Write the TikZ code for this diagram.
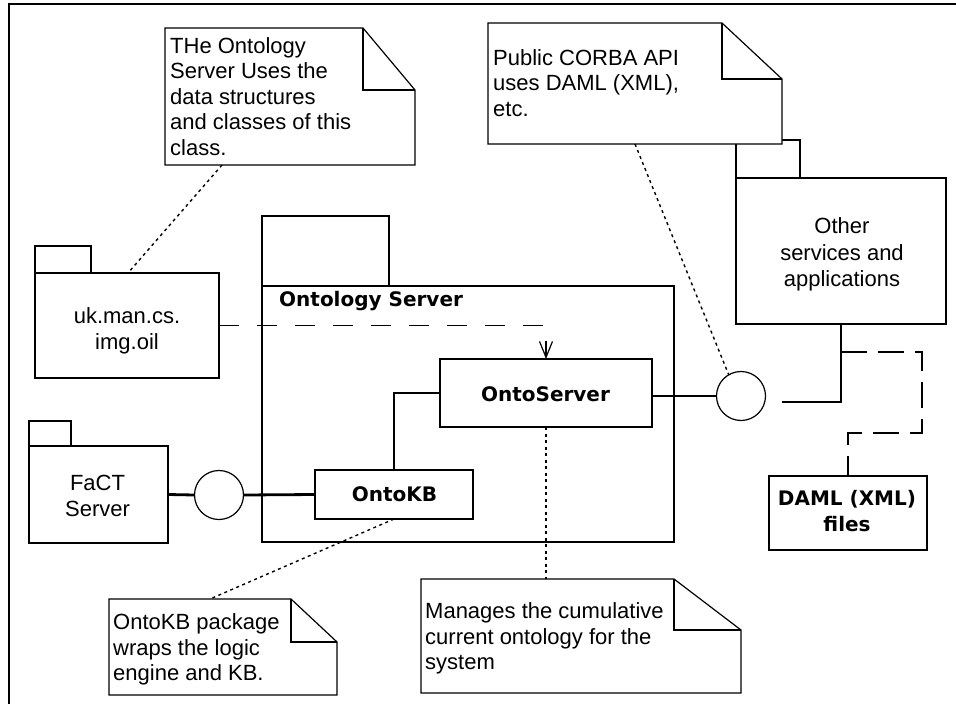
\documentclass[tikz,border=0pt]{standalone}
\usepackage{fontspec}
\setmainfont{Liberation Sans}
\newfontfamily\dvs{DejaVu Sans}
\usetikzlibrary{arrows.meta,calc}
\newcommand\drawnote[3]{%
  \draw[thinln,fill=white] (#1.north west) -- ($(#1.north east)+(-#2,0)$) -- ($(#1.north east)+(0,#3)$) -- (#1.south east) -- (#1.south west) -- cycle;
  \draw[thinln] ($(#1.north east)+(-#2,0)$) -- ++(0,#3) -- ($(#1.north east)+(0,#3)$);}
\begin{document}
\begin{tikzpicture}[x=1pt,y=-1pt,
  box/.style={draw,line width=1.2pt,inner sep=0pt,outer sep=0pt,anchor=north west},
  notearea/.style={inner sep=0pt,outer sep=0pt,anchor=north west},
  txt/.style={font=\fontsize{22}{25.5}\selectfont,inner sep=0pt},
  txtw/.style={font=\fontsize{22}{26.5}\selectfont,inner sep=0pt},
  btxt/.style={font=\dvs\bfseries\fontsize{20}{26.5}\selectfont,inner sep=0pt},
  thinln/.style={line width=1.2pt},
  thickln/.style={line width=2.8pt},
  tabln/.style={line width=2.4pt},
  dotline/.style={line width=1.4pt,dash pattern=on 3pt off 3.5pt},
  depline/.style={line width=1.2pt,dash pattern=on 20pt off 18pt},
  dashline/.style={line width=1.2pt,dash pattern=on 26pt off 11pt},
  iface/.style={draw,circle,line width=1.2pt,minimum size=49pt,inner sep=0pt,outer sep=0pt},
]
\useasboundingbox (0,0) rectangle (956,704);
\fill[white] (0,0) rectangle (956,704);
\draw[line width=2pt] (9,704) -- (9,4) -- (956,4);

% uk.man.cs.img.oil package
\node[box,minimum width=56pt,minimum height=27pt] (uktab) at (35,246) {};
\node[box,minimum width=184pt,minimum height=105pt] (uk) at (35,273) {};
\draw[tabln] (uk.north west) -- (uktab.south east);
\node[txt,anchor=north,align=center] (uklbl) at (127,305.5) {\strut uk.man.cs.\\img.oil};

% Ontology Server package
\node[box,minimum width=127pt,minimum height=70pt] (ostab) at (262,216) {};
\node[box,minimum width=412pt,minimum height=256pt] (osp) at (262,286) {};
\draw[tabln] (osp.north west) -- (ostab.south east);
\node[btxt,anchor=base west] (osplbl) at (279,306.7) {Ontology Server};

% FaCT Server package
\node[box,minimum width=42pt,minimum height=25pt] (facttab) at (29,421) {};
\node[box,minimum width=139pt,minimum height=97pt] (fact) at (29,446) {};
\draw[tabln] (fact.north west) -- (facttab.south east);
\node[txtw,anchor=north,align=center] (factlbl) at (97.5,471.5) {\strut FaCT\\Server};

% Other services package
\node[box,minimum width=64pt,minimum height=38pt] (othtab) at (736,140) {};
\node[box,minimum width=210pt,minimum height=146pt] (oth) at (736,178) {};
\draw[tabln] (oth.north west) -- (othtab.south east);
\node[txtw,anchor=north,align=center] (othlbl) at (842,214.8) {\strut Other\\services and\\applications};

% DAML files
\node[box,minimum width=158pt,minimum height=74pt] (daml) at (769,476) {};
\node[btxt,anchor=north,align=center] (damllbl) at (847,486.45) {\strut DAML (XML)\\files};

% classes
\node[box,minimum width=212pt,minimum height=68pt] (os) at (440,359) {};
\node[btxt,anchor=base] (oslbl) at (545.5,401) {OntoServer};
\node[box,minimum width=158pt,minimum height=49pt] (kb) at (315,470) {};
\node[btxt,anchor=base] (kblbl) at (394.5,501.7) {OntoKB};

% interfaces
\node[iface] (cl) at (219,495) {};
\node[iface] (cr) at (741,396) {};

% connectors
\draw[depline,-{Straight Barb[length=16pt,width=13pt,line width=1.2pt]}] (uk.east) -| (os.north);
\draw[thickln] (fact.east) -- (cl.west);
\draw[thickln] (cl.east) -- (kb.west);
\draw[thinln] (kb.north) |- (os.west);
\draw[thickln] (os.east |- cr.west) -- (cr.west);
\coordinate (oend) at (782,402);
\draw[thinln] (oend) -| (oth.south);
\coordinate (junc) at ($(oth.south)+(0,28)$);
\coordinate (dc1) at (922,352);
\coordinate (dc2) at (922,433);
\draw[dashline] (junc) -- (dc1) -- (dc2) -| (daml.north);

% notes
\node[notearea,minimum width=250pt,minimum height=137pt] (n1) at (165,28) {};
\drawnote{n1}{52}{62}
\node[txt,anchor=north west,align=left] (n1t) at (170,35.15) {\strut THe Ontology\\Server Uses the\\data structures\\and classes of this\\class.};

\node[notearea,minimum width=294pt,minimum height=121pt] (n2) at (488,23) {};
\drawnote{n2}{60}{56}
\node[txt,anchor=north west,align=left] (n2t) at (493,47.15) {\strut Public CORBA API\\uses DAML (XML),\\etc.};

\node[notearea,minimum width=228pt,minimum height=96pt] (n3) at (109,599) {};
\drawnote{n3}{46}{43}
\node[txt,anchor=north west,align=left] (n3t) at (113,611.45) {\strut OntoKB package\\wraps the logic\\engine and KB.};

\node[notearea,minimum width=320pt,minimum height=114pt] (n4) at (421,579) {};
\drawnote{n4}{67}{51}
\node[txt,anchor=north west,align=left] (n4t) at (425,600.45) {\strut Manages the cumulative\\current ontology for the\\system};

% note attachments
\draw[dotline] ($(n1.south west)+(57,0)$) -- ($(uk.north west)+(93,0)$);
\draw[dotline] ($(n2.south west)+(147,0)$) -- (cr.120);
\draw[dotline] (kb.south) -- ($(n3.north west)+(101,0)$);
\draw[dotline] (os.south) -- (os.south |- n4.north);
\end{tikzpicture}
\end{document}
